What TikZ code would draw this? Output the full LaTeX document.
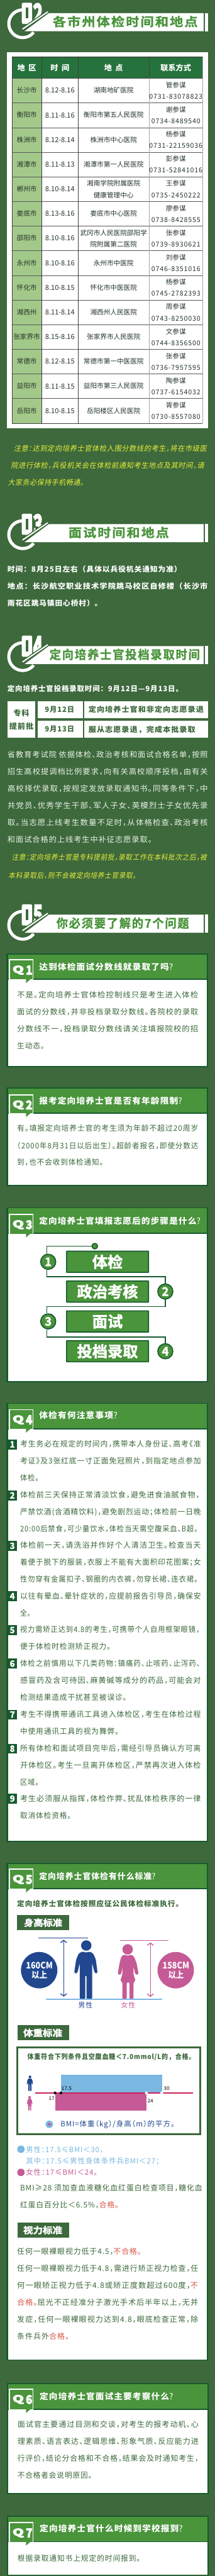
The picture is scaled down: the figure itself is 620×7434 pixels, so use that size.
\documentclass[tikz,border=0pt]{standalone}
\usepackage{fontspec}
\usepackage{graphicx}
\usetikzlibrary{arrows.meta}
\setmainfont{Noto Sans CJK SC}
\newfontfamily\bodyf[RawFeature={+halt},LetterSpace=8]{Noto Sans CJK SC}
\newfontfamily\notef[RawFeature={+halt},LetterSpace=5,FakeSlant=0.2]{Noto Sans CJK SC}
\newfontfamily\boldf[LetterSpace=8]{Noto Sans CJK SC}
\newfontfamily\plainf{Noto Sans CJK SC}
\newfontfamily\phonef[LetterSpace=8]{Noto Sans CJK SC}
\newfontfamily\heavyf[FakeBold=2]{Noto Sans CJK SC Bold}
\newfontfamily\blockf[FakeBold=7]{Noto Sans CJK SC Bold}
\newfontfamily\titlef[FakeBold=1,LetterSpace=10]{Noto Sans CJK SC Bold}
\definecolor{bgg}{HTML}{3D693C}
\definecolor{hdg}{HTML}{4A943C}
\definecolor{frm}{HTML}{175A2E}
\definecolor{tbl}{HTML}{26723C}
\definecolor{colone}{HTML}{A3C98A}
\definecolor{yel}{HTML}{E6EC3A}
\definecolor{blu}{HTML}{21478F}
\definecolor{pnk}{HTML}{C55A96}
\definecolor{sky}{HTML}{7AB8E2}
\definecolor{redt}{HTML}{D9574A}
\definecolor{crm}{HTML}{CC1F5A}
\definecolor{offw}{HTML}{EAF1E7}
\definecolor{tink}{HTML}{25352A}
\newcounter{tn}
% fitted line: x1,x2,yc,size,font,text
\newcommand\qtx[6]{\stepcounter{tn}\node[anchor=base west,inner sep=0pt,outer sep=0pt](t\thetn) at (#1,{#3+.36*#4}) {\resizebox{\dimexpr#2pt-#1pt\relax}{\height}{\fontsize{#4}{#4}#5 #6}};}
% fitted line in zoom-crop units: offset,x1,x2,y,size,font,text
\newcommand\dtx[7]{\pgfmathsetmacro\qxa{#2*.3954}\pgfmathsetmacro\qxb{#3*.3954}\pgfmathsetmacro\qyc{#1+#4*.3954}\qtx{\qxa}{\qxb}{\qyc}{#5}{#6}{#7}}
% centred: cx,yc,size,font,text
\newcommand\qct[5]{\stepcounter{tn}\node[anchor=base,inner sep=0pt,outer sep=0pt](t\thetn) at (#1,{#2+.36*#3}) {\fontsize{#3}{#3}#4 #5};}
\newcommand\wbody{\bodyf\color{bgg}}
\newcommand\gbody{\bodyf\color{offw}}
\newcommand\wbold{\boldf\bfseries\color{white}}
\newcommand\gbold{\boldf\bfseries\color{bgg}}
\newcommand\tightw{\plainf\bfseries\color{white}}
% body line on white: x1,x2,y,text
\newcommand\qbl[4]{\qtx{#1}{#2}{#3}{22}{\wbody}{#4}}
\tikzset{
 stepbox/.style={draw=frm,fill=hdg,line width=3pt,minimum width=236.6pt,minimum height=61pt,inner sep=0pt,text=white,rounded corners=1pt},
 numcirc/.style={circle,draw=frm,fill=hdg,line width=3pt,minimum size=43.5pt,inner sep=0pt,text=white},
 flowline/.style={draw=frm,line width=3.2pt,line join=miter},
}
% section header: dy,digit,x1,x2,title
\newcommand\qhdr[5]{\begin{scope}[shift={(0,#1)}]
 \draw[white,line width=9pt] plot[domain=92:322,samples=50] ({65.5+40*cos(\x)},{68.5-40*sin(\x)});
 \fill[white,rounded corners=3pt] (63,8) rectangle (93,69);
 \stepcounter{tn}\node[inner sep=0pt,text=white](t\thetn) at (78,38.5) {\resizebox*{26pt}{55pt}{\fontsize{80}{80}\blockf 0}};
 \fill[bgg] (75,22) rectangle (82,53);
 \stepcounter{tn}\node[inner sep=0pt,text=white](t\thetn) at (109.5,38.5) {\resizebox*{27pt}{56pt}{\fontsize{80}{80}\blockf #2}};
 \fill[bgg] (58,89) -- (145,29) -- (145,90) -- (62,92) -- cycle;
 \draw[bgg,line width=9pt] (58,89) -- (145,29);
 \draw[white,line width=3.5pt] (65,84) -- (138,34);
 \fill[white] (71,90) -- (141,38) -- (588,38) -- (588,90) -- cycle;
 \fill[white] (591,38) rectangle (600,90);
 \qtx{#3}{#4}{63}{35}{\titlef\color{hdg}}{#5}
\end{scope}}
\def\qdx{0}
% question card: top,bottom,rule top,badge top,n,title x1,title x2,title y,title
\newcommand\qcard[9]{
 \fill[frm] ({19+\qdx},#1) rectangle ({601.5+\qdx},#2);
 \fill[white] ({23+\qdx},{#1+3}) rectangle ({598+\qdx},{#2-3});
 \fill[hdg] ({23+\qdx},{#1+3}) rectangle ({598+\qdx},#3);
 \fill[frm] ({19+\qdx},#3) rectangle ({601.5+\qdx},{#3+3.5});
 \fill[white] (25.7,#4) rectangle (97,{#3+4});
 \fill[hdg] (29.7,{#4+3.2}) rectangle (95,{#3+2});
 \fill[hdg] (75,{#3+1}) -- (75,{#3+13}) -- (88,{#3+2}) -- cycle;
 \stepcounter{tn}\node[inner sep=0pt,text=white](t\thetn) at (52.6,{#4+31}) {\resizebox*{32pt}{25pt}{\fontsize{40}{40}\blockf Q}};
 \stepcounter{tn}\node[inner sep=0pt,text=white](t\thetn) at (84,{#4+31}) {\resizebox*{18pt}{25pt}{\fontsize{40}{40}\blockf #5}};
 \qtx{#6}{#7}{#8}{24}{\wbold}{#9{\mdseries ?}}
}
% numbered tag: top,digit
\newcommand\qtag[2]{\fill[frm] (19,#1) rectangle (49,{#1+28.5});\qct{35.6}{#1+14.2}{25}{\heavyf\color{white}}{#2}}
% table rows
\newcommand\qrowbase[5]{\pgfmathsetmacro\qry{225.8+71.1*#1}
 \qct{77.3}{\qry+35.5}{19.3}{\plainf\color{tink}}{#2}
 \qct{173}{\qry+35.5}{20}{\plainf\color{tink}}{#3}
 \qct{507.7}{\qry+20}{19.3}{\plainf\color{tink}}{#4}
 \qct{507.7}{\qry+53}{19.3}{\phonef\color{tink}}{#5}}
\newcommand\qrow[6]{\qrowbase{#1}{#2}{#3}{#5}{#6}\qct{328}{\qry+35.5}{19.3}{\plainf\color{tink}}{#4}}
\newcommand\qrowb[7]{\qrowbase{#1}{#2}{#3}{#6}{#7}\qct{328}{\qry+20}{19.3}{\plainf\color{tink}}{#4}\qct{328}{\qry+53}{19.3}{\plainf\color{tink}}{#5}}
% figures in crop units
\newcommand\qmale{(630,140) -- (605,130) -- (575,145) -- (556,190) -- (542,285) -- (550,293) -- (566,285) -- (582,215) -- (582,478) -- (622,478) -- (622,305) -- (632,305) -- (632,478) -- (673,478) -- (673,215) -- (690,285) -- (705,293) -- (712,285) -- (700,190) -- (680,145) -- (652,130) -- cycle (630,87) circle[radius=38]}
\newcommand\qfemale{(932,163) -- (905,152) -- (885,170) -- (872,220) -- (860,295) -- (870,303) -- (885,295) -- (896,240) -- (893,300) -- (878,345) -- (893,353) -- (893,478) -- (926,478) -- (926,355) -- (945,355) -- (945,478) -- (975,478) -- (975,353) -- (990,345) -- (975,300) -- (975,240) -- (987,295) -- (1000,303) -- (1012,295) -- (998,220) -- (980,170) -- (958,152) -- cycle (932,115) circle[radius=38]}
\begin{document}
\begin{tikzpicture}[x=1pt,y=-1pt]
\useasboundingbox (0,0) rectangle (620,7434);
\fill[bgg] (0,0) rectangle (620,7434);
% ---------- 02
\qhdr{0}{2}{152}{571}{各市州体检时间和地点}
\fill[white] (20,151) rectangle (600.6,1236);
\fill[tbl] (34.4,163) rectangle (584.4,225.8);
\fill[colone] (34.4,225.8) rectangle (120.2,1222);
\foreach \i in {1,...,13}{\draw[black!65,line width=.9pt] (34.4,{225.8+71.1*\i}) -- (584.4,{225.8+71.1*\i});}
\draw[black!70,line width=1.2pt] (34.4,225.8) -- (584.4,225.8);
\draw[black!75,line width=1.4pt] (34.4,1222) -- (584.4,1222);
\draw[black!80,line width=.9pt] (34.4,163) -- (584.4,163);
\draw[black!75,line width=.9pt] (34.4,163) -- (34.4,1222);
\draw[black!75,line width=.9pt] (120.2,163) -- (120.2,1222);
\draw[black!75,line width=.9pt] (225.4,163) -- (225.4,1222);
\draw[black!75,line width=.9pt] (430.2,163) -- (430.2,225.8);
\draw[black!35,line width=.9pt] (430.2,225.8) -- (430.2,1222);
\draw[black!35,line width=.9pt] (584.4,163) -- (584.4,1222);
\qct{77.3}{195.7}{22}{\plainf\bfseries\color{white}}{地\hspace{10pt}区}
\qct{173}{195.7}{22}{\plainf\bfseries\color{white}}{时\hspace{10pt}间}
\qct{328}{195.7}{22}{\plainf\bfseries\color{white}}{地\hspace{10pt}点}
\qct{507.7}{195.7}{22}{\plainf\bfseries\color{white}}{联系方式}
\qrow{0}{长沙市}{8.12-8.16}{湖南地矿医院}{管参谋}{0731-83078823}
\qrow{1}{衡阳市}{8.11-8.16}{衡阳市第五人民医院}{谢参谋}{0734-8489540}
\qrow{2}{株洲市}{8.12-8.14}{株洲市中心医院}{杨参谋}{0731-22159036}
\qrow{3}{湘潭市}{8.11-8.13}{湘潭市第一人民医院}{彭参谋}{0731-52841016}
\qrowb{4}{郴州市}{8.10-8.14}{湘南学院附属医院}{健康管理中心}{王参谋}{0735-2450222}
\qrow{5}{娄底市}{8.13-8.16}{娄底市中心医院}{廖参谋}{0738-8428555}
\qrowb{6}{邵阳市}{8.10-8.16}{武冈市人民医院邵阳学}{院附属第二医院}{张参谋}{0739-8930621}
\qrow{7}{永州市}{8.10-8.16}{永州市中医院}{刘参谋}{0746-8351016}
\qrow{8}{怀化市}{8.10-8.15}{怀化市中医医院}{杨参谋}{0745-2782393}
\qrow{9}{湘西州}{8.11-8.14}{湘西州人民医院}{周参谋}{0743-8250030}
\qrow{10}{张家界市}{8.15-8.16}{张家界市人民医院}{文参谋}{0744-8356500}
\qrow{11}{常德市}{8.12-8.15}{常德市第一中医医院}{张参谋}{0736-7957595}
\qrow{12}{益阳市}{8.11-8.15}{益阳市第三人民医院}{陶参谋}{0737-6154032}
\qrow{13}{岳阳市}{8.10-8.15}{岳阳楼区人民医院}{胥参谋}{0730-8557080}
\qtx{39.5}{597}{1294.2}{21}{\notef\color{yel}}{注意：达到定向培养士官体检入围分数线的考生，将在市级医}
\qtx{31.6}{589}{1344}{21}{\notef\color{yel}}{院进行体检，兵役机关会在体检前通知考生地点及其时间，请}
\qtx{23}{242}{1392.2}{21}{\notef\color{yel}}{大家务必保持手机畅通。}
% ---------- 03
\qhdr{1474.5}{3}{197.7}{488}{面试时间和地点}
\qtx{21.7}{524}{1644}{21}{\wbold}{时间：8月25日左右（具体以兵役机关通知为准）}
\qtx{21.7}{600}{1693}{21}{\wbold}{地点：长沙航空职业技术学院跳马校区自修楼（长沙市}
\qtx{21.7}{294.6}{1742}{21}{\wbold}{雨花区跳马镇田心桥村）。}
% ---------- 04
\qhdr{1826.4}{4}{143}{577}{定向培养士官投档录取时间}
\qtx{21.7}{528}{1987.3}{21}{\wbold}{定向培养士官投档录取时间：9月12日—9月13日。}
\fill[white] (21,2024) rectangle (101.6,2129);
\fill[white] (108,2024) rectangle (238.8,2072.7);
\fill[white] (108,2079.8) rectangle (238.8,2129);
\fill[white] (243,2024) rectangle (600,2072.7);
\fill[white] (243,2079.8) rectangle (600,2129);
\qct{61.7}{2059}{22}{\gbold}{专科}
\qct{61.7}{2096}{22}{\gbold}{提前批}
\qtx{129.7}{214.3}{2048.6}{21}{\gbold}{9月12日}
\qtx{129.7}{214.3}{2104.4}{21}{\gbold}{9月13日}
\qtx{255.8}{588}{2048.6}{21}{\gbold}{定向培养士官和非定向志愿录退}
\qtx{255.8}{564}{2105.6}{21}{\gbold}{服从志愿录退，完成本批录取}
\qtx{21.7}{600}{2178.3}{22}{\gbody}{省教育考试院 依据体检、政治考核和面试合格名单，按照}
\qtx{21.7}{600}{2227}{22}{\gbody}{招生高校提调档比例要求，向有关高校顺序投档，由有关}
\qtx{21.7}{600}{2276}{22}{\gbody}{高校择优录取，按规定发放录取通知书。同等条件下，中}
\qtx{21.7}{600}{2324.6}{22}{\gbody}{共党员、优秀学生干部、军人子女、英模烈士子女优先录}
\qtx{21.7}{600}{2373.7}{22}{\gbody}{取。当志愿上线考生数量不足时，从体格检查、政治考核}
\qtx{21.7}{439}{2422.3}{22}{\gbody}{和面试合格的上线考生中补征志愿录取。}
\qtx{33.6}{597}{2475}{21}{\notef\color{yel}}{注意：定向培养士官是专科提前批，录取工作在本科批次之后，被}
\qtx{24.5}{393.4}{2526.3}{21}{\notef\color{yel}}{本科录取后，则不会被定向培养士官录取。}
% ---------- 05
\qhdr{2601.7}{5}{163}{545.7}{你必须要了解的7个问题}
% Q1
\qcard{2751.3}{3079.4}{2824}{2768.6}{1}{113}{500}{2791.2}{达到体检面试分数线就录取了吗}
\qbl{49.4}{572.2}{2870.7}{不是。定向培养士官体检控制线只是考生进入体检}
\qbl{49.4}{572.2}{2919.7}{面试的分数线，并非投档录取分数线。各院校的录取}
\qbl{49.4}{572.2}{2968.7}{分数线不一，投档录取分数线请关注填报院校的招}
\qbl{49.4}{128.5}{3017.8}{生动态。}
% Q2
\qcard{3138}{3422.7}{3210.7}{3157.7}{2}{113}{526}{3177.9}{报考定向培养士官是否有年龄限制}
\qbl{49.4}{572.2}{3256.6}{有。填报定向培养士官的考生须为年龄不超过20周岁}
\qbl{49.4}{572.2}{3306.4}{（2000年8月31日以后出生）。超龄者报名，即使分数达}
\qbl{49.4}{298.5}{3355}{到，也不会收到体检通知。}
% Q3
\qcard{3484.3}{3989}{3558}{3503.3}{3}{113}{579}{3524.3}{定向培养士官填报志愿后的步骤是什么}
\node[stepbox](b1) at (310.4,3641.35) {\fontsize{44}{44}\heavyf 体检};
\node[stepbox](b2) at (310.4,3727.2) {\fontsize{44}{44}\heavyf 政治考核};
\node[stepbox](b3) at (310.4,3813.5) {\fontsize{44}{44}\heavyf 面试};
\node[stepbox](b4) at (310.4,3899.5) {\fontsize{44}{44}\heavyf 投档录取};
\node[numcirc](c1) at (139.2,3641.3) {\fontsize{34}{34}\heavyf 1};
\node[numcirc](c2) at (477.3,3727) {\fontsize{34}{34}\heavyf 2};
\node[numcirc](c3) at (139.2,3813.3) {\fontsize{34}{34}\heavyf 3};
\node[numcirc](c4) at (477.3,3899.5) {\fontsize{34}{34}\heavyf 4};
\node[circle,draw=frm,fill=hdg,line width=3pt,minimum size=16pt,inner sep=0pt](dot) at (273.6,3596.2) {};
\coordinate (j1) at (477.3,3684.4);
\coordinate (j2) at (135.2,3770.6);
\coordinate (j3) at (477.3,3858.8);
\draw[flowline] (dot.west) -| ([xshift=-4pt]c1.north);
\draw[flowline] ([xshift=-4pt]c1.south) |- (j1) -- (c2.north);
\draw[flowline] (c2.south) |- (j2) -- ([xshift=-4pt]c3.north);
\draw[flowline] ([xshift=-4pt]c3.south) |- (j3) -- (c4.north);
% Q4
\qcard{4048.2}{5315.9}{4121.3}{4066.4}{4}{113}{339}{4085}{体检有何注意事项}
\qtag{4154}{1}\qtag{4301.3}{2}\qtag{4446.8}{3}\qtag{4591.9}{4}\qtag{4690}{5}\qtag{4786.8}{6}\qtag{4933.9}{7}\qtag{5032}{8}\qtag{5176.3}{9}
\qbl{58.1}{580}{4168}{考生务必在规定的时间内，携带本人身份证、高考《准}
\qbl{58.1}{580}{4216.6}{考证》及3张红底一寸正面免冠照片，到指定地点参加}
\qbl{58.1}{112.7}{4265.3}{体检。}
\qbl{58.1}{576.5}{4314.3}{体检前三天保持正常清淡饮食，避免进食油腻食物，}
\qbl{58.1}{580}{4363}{严禁饮酒(含酒精饮料)，避免剧烈运动；体检前一日晚}
\qbl{58.1}{571.4}{4412}{20:00后禁食，可少量饮水，体检当天需空腹采血、B超。}
\qbl{58.1}{580}{4460.2}{体检前一天，请洗浴并作好个人清洁卫生。检查当天}
\qbl{58.1}{580}{4508.8}{着便于脱下的服装，衣服上不能有大面积印花图案；女}
\qbl{58.1}{571.4}{4557.5}{性勿穿有金属扣子、钢圈的内衣裤，勿穿长裙、连衣裙。}
\qbl{58.1}{580}{4606.1}{以往有晕血、晕针症状的，应提前报告引导员，确保安}
\qbl{58.1}{89}{4655.1}{全。}
\qbl{58.1}{576.5}{4703.4}{视力需矫正达到4.8的考生，可携带个人自用框架眼镜，}
\qbl{58.1}{319.5}{4752.4}{便于体检时检测矫正视力。}
\qbl{58.1}{578}{4801}{体检之前慎用以下几类药物：镇痛药、止咳药、止泻药、}
\qbl{58.1}{580}{4850}{感冒药及含可待因、麻黄碱等成分的药品，可能会对}
\qbl{58.1}{365.8}{4898.7}{检测结果造成干扰甚至被误诊。}
\qbl{58.1}{580}{4947.4}{考生不得携带通讯工具进入体检区，考生在体检过程}
\qbl{58.1}{343.2}{4996.4}{中使用通讯工具的视为舞弊。}
\qbl{58.1}{580}{5045.4}{所有体检和面试项目完毕后，需经引导员确认方可离}
\qbl{58.1}{580}{5094.4}{开体检区。考生一旦离开体检区，严禁再次进入体检}
\qbl{58.1}{112.7}{5143}{区域。}
\qbl{58.1}{580}{5191.3}{考生必须服从指挥，体检作弊、扰乱体检秩序的一律}
\qbl{58.1}{205.6}{5240}{取消体检资格。}
% Q5
\qcard{5376}{6811.7}{5448.3}{5393}{5}{113}{449}{5414.7}{定向培养士官体检有什么标准}
\qtx{49.4}{528.7}{5493.8}{21}{\gbold}{定向培养士官体检按照应征公民体检标准执行。}
\fill[bgg] (49.8,5527) rectangle (200,5570);
\qtx{69}{180}{5549}{26}{\heavyf\color{white}}{身高标准}
\begin{scope}[shift={(0,5580)},x=.3954pt,y=-.3954pt]
 \draw[blu,line width=2.2pt] (282,31) -- (642,31);
 \draw[pnk,line width=2.2pt] (878,50) -- (1231,50);
 \draw[blu,line width=2.4pt,{Straight Barb[length=7pt,width=18pt]}-{Straight Barb[length=7pt,width=18pt]}] (465,45) -- (465,460);
 \draw[pnk,line width=2.4pt,{Straight Barb[length=7pt,width=18pt]}-{Straight Barb[length=7pt,width=18pt]}] (1098,65) -- (1098,462);
 \fill[blu] (286,267) circle[radius=133];
 \fill[pnk] (1283,267) circle[radius=133];
 \fill[blu,rounded corners=3pt] \qmale;
 \fill[pnk,rounded corners=3pt] \qfemale;
 \draw[sky,line width=3pt] (336,481) -- (1186,481);
\end{scope}
\dtx{5580}{190}{385}{232}{26}{\tightw}{160CM}
\dtx{5580}{230}{345}{305}{25}{\tightw}{以上}
\dtx{5580}{1187}{1382}{232}{26}{\tightw}{158CM}
\dtx{5580}{1228}{1342}{305}{25}{\tightw}{以上}
\dtx{5580}{572}{675}{522}{20}{\bodyf\color{blu}}{男性}
\dtx{5580}{884}{988}{522}{20}{\bodyf\color{pnk}}{女性}
% weight
\begin{scope}[shift={(0,5580)},x=.3954pt,y=-.3954pt]
 \fill[bgg] (127,670) rectangle (507,778);
 \draw[bgg,line width=5.5pt] (127,832) rectangle (1461,1466);
 \fill[sky] (445,1029) rectangle (1184,1160);
 \fill[pnk] (402,1165) rectangle (1070,1292);
 \draw[crm,line width=3.2pt] (257,1163) -- (1411,1163);
 \fill[black] (402,1163) circle[radius=10];
 \fill[black] (445,1163) circle[radius=10];
 \fill[white] (1069,1163) circle[radius=11];
 \fill[white] (1181,1163) circle[radius=11];
 \begin{scope}[shift={(218,1092)},scale=.26,shift={(-627,-264)}]
  \fill[blu] \qmale;
 \end{scope}
 \begin{scope}[shift={(217,1237)},scale=.26,shift={(-935,-275)}]
  \fill[pnk] \qfemale;
 \end{scope}
 \fill[sky] (360,1392) circle[radius=27];
 \fill[pnk] (360,1392) circle[radius=11];
\end{scope}
\dtx{5580}{170}{455}{726}{26}{\heavyf\color{white}}{体重标准}
\dtx{5580}{200}{1425}{898}{20}{\gbold}{体重符合下列条件且空腹血糖＜7.0mmol/L的，合格。}
\dtx{5580}{448}{524}{1128}{14}{\plainf\color{black}}{17.5}
\dtx{5580}{1195}{1238}{1131}{14}{\plainf\color{black}}{30}
\dtx{5580}{356}{397}{1205}{14}{\plainf\color{black}}{17}
\dtx{5580}{1077}{1119}{1223}{14}{\plainf\color{black}}{24}
\dtx{5580}{442}{1275}{1390}{21}{\bodyf\color{blu}}{BMI=体重（kg）/身高（m）的平方。}
\begin{scope}[shift={(0,6200)},x=.3954pt,y=-.3954pt]
 \fill[sky] (153,6) circle[radius=27];
 \fill[pnk] (153,175) circle[radius=27];
 \fill[bgg] (127,541) rectangle (507,650);
\end{scope}
\dtx{6200}{190}{755}{12}{21}{\bodyf\color{sky}}{男性：17.5≤BMI＜30，}
\dtx{6200}{190}{1165}{92}{21}{\bodyf\color{sky}}{其中：17.5≤男性身体条件兵BMI＜27；}
\dtx{6200}{190}{712}{177}{21}{\bodyf\color{pnk}}{女性：17≤BMI＜24。}
\dtx{6200}{147}{1477}{290}{22}{\wbody}{BMI≥28 须加查血液糖化血红蛋白检查项目，糖化血}
\dtx{6200}{147}{868}{413}{22}{\wbody}{红蛋白百分比＜6.5\%，{\color{redt}合格。}}
\dtx{6200}{170}{455}{598}{26}{\heavyf\color{white}}{视力标准}
\dtx{6200}{125}{1032}{753}{22}{\wbody}{任何一眼裸眼视力低于4.5，{\color{redt}不合格。}}
\dtx{6200}{125}{1447}{878}{22}{\wbody}{任何一眼裸眼视力低于4.8，需进行矫正视力检查，任}
\dtx{6200}{125}{1447}{1001}{22}{\wbody}{何一眼矫正视力低于4.8或矫正度数超过600度，{\color{redt}不}}
\dtx{6200}{125}{1447}{1125}{22}{\wbody}{{\color{redt}合格。}屈光不正经准分子激光手术后半年以上，无并}
\dtx{6200}{125}{1447}{1248}{22}{\wbody}{发症，任何一眼裸眼视力达到4.8，眼底检查正常，除}
\dtx{6200}{125}{505}{1371}{22}{\wbody}{条件兵外{\color{redt}合格。}}
% Q6, Q7
\def\qdx{1.5}
\qcard{6877.3}{7197.2}{6950.5}{6893.5}{6}{114.7}{500}{6915.7}{定向培养士官面试主要考察什么}
\qbl{50.6}{573.3}{6996.7}{面试官主要通过目测和交谈，对考生的报考动机、心}
\qbl{50.6}{573.3}{7046.2}{理素质、语言表达、逻辑思维、形象气质、反应能力进}
\qbl{50.6}{573.3}{7095.6}{行评价，结论分合格和不合格，结果会及时通知考生，}
\qbl{50.6}{265.7}{7144.6}{不合格者会说明原因。}
\qcard{7259.7}{7432.5}{7333.2}{7278.7}{7}{114.7}{528}{7297.7}{定向培养士官什么时候到学校报到}
\qbl{50.6}{405.3}{7383}{根据录取通知书上规定的时间报到。}
\end{tikzpicture}
\end{document}
